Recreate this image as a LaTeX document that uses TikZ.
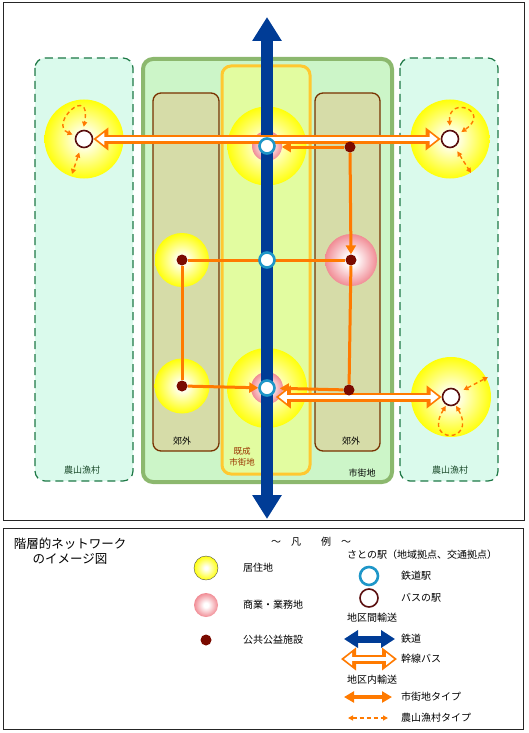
\documentclass[tikz,border=0pt]{standalone}
\usepackage{fontspec}
\setmainfont{Noto Sans CJK JP}
\usetikzlibrary{arrows.meta}

\definecolor{railblue}{HTML}{003C96}
\definecolor{busorange}{HTML}{FF7A00}
\definecolor{ringcyan}{HTML}{1E96C8}
\definecolor{ringbrown}{HTML}{5A0F0F}
\definecolor{dotred}{HTML}{7A0A00}
\definecolor{ruralfill}{HTML}{DAFAEC}
\definecolor{ruraledge}{HTML}{1E7846}
\definecolor{cityfill}{HTML}{CCF5C8}
\definecolor{cityedge}{HTML}{8CB86E}
\definecolor{corefill}{HTML}{E2FCA0}
\definecolor{coreedge}{HTML}{FFC830}
\definecolor{subfill}{HTML}{D6DCA8}
\definecolor{subedge}{HTML}{783200}
\definecolor{glowyellow}{HTML}{FFFF00}
\definecolor{glowpink}{HTML}{EC6470}
\definecolor{coretext}{HTML}{993300}
\definecolor{ruraltext}{HTML}{1A4A2A}

\pgfdeclareradialshading{homeshade}{\pgfpoint{0bp}{0bp}}{color(0bp)=(white); color(3bp)=(white); color(26bp)=(glowyellow); color(50bp)=(glowyellow)}
\pgfdeclareradialshading{shopshade}{\pgfpoint{0bp}{0bp}}{color(0bp)=(white); color(5bp)=(white); color(32bp)=(glowpink); color(50bp)=(glowpink)}

\pgfdeclarelayer{background}
\pgfdeclarelayer{links}
\pgfsetlayers{background,links,main}

\tikzset{
	frame/.style={draw=black!85, line width=1pt},
	ruralzone/.style={fill=ruralfill, draw=ruraledge, line width=1.2pt, dash pattern=on 8pt off 5pt, rounded corners=10pt},
	cityzone/.style={fill=cityfill, draw=cityedge, line width=4pt, rounded corners=10pt},
	corezone/.style={fill=corefill, draw=coreedge, line width=3pt, rounded corners=9pt},
	subzone/.style={fill=subfill, draw=subedge, line width=1.3pt, rounded corners=8pt},
	homeglow/.style={circle, inner sep=0pt, minimum size=#1, shade, shading=homeshade},
	shopglow/.style={circle, inner sep=0pt, minimum size=#1, shade, shading=shopshade},
	station/.style={circle, inner sep=0pt, minimum size=15pt, fill=white, draw=ringcyan, line width=2.6pt},
	busstop/.style={circle, inner sep=0pt, minimum size=17pt, fill=white, draw=ringbrown, line width=1.6pt},
	facility/.style={circle, inner sep=0pt, minimum size=11pt, fill=dotred},
	rail/.style={railblue, line width=12pt, {Triangle[length=24pt,width=28pt]}-{Triangle[length=24pt,width=28pt]}},
	trunk/.style={busorange, line width=9pt, {Triangle[length=15pt,width=22pt]}-{Triangle[length=15pt,width=22pt]},
		postaction={draw=white, line width=3.5pt, shorten <=3pt, shorten >=3pt, {Triangle[length=8pt,width=12pt]}-{Triangle[length=8pt,width=12pt]}}},
	town/.style={busorange, line width=3pt},
	tohub/.style={-{Triangle[length=9pt,width=10pt]}},
	rural/.style={busorange, line width=1.4pt, dash pattern=on 4pt off 3pt, {Triangle[length=5pt,width=5pt]}-{Triangle[length=5pt,width=5pt]}},
	zonetext/.style={font=\fontsize{9}{11}\selectfont},
	keytext/.style={anchor=west, inner sep=0pt, font=\fontsize{10}{12}\selectfont}
}

\begin{document}
\begin{tikzpicture}[x=1pt,y=-1pt]
	\useasboundingbox (0,0) rectangle (528,733);
	\draw[frame] (3,3) rectangle (524,520);
	\draw[frame] (3,528) rectangle (523,729);

	\begin{pgfonlayer}{background}
		\draw[ruralzone] (35,58) rectangle (133,481);
		\draw[ruralzone] (400,58) rectangle (498,481);
		\draw[cityzone] (143,59) rectangle (392,482);
		\draw[corezone] (222,66) rectangle (310,474);
		\draw[subzone] (153,93) rectangle (219,451);
		\draw[subzone] (315,93) rectangle (380,451);

		\node[homeglow=79pt] (glowL) at (84,139) {};
		\node[homeglow=79pt] (glowRA) at (450,139) {};
		\node[homeglow=80pt] (glowRB) at (451,397) {};
		\node[homeglow=79pt] (glowT) at (267,146) {};
		\node[homeglow=80pt] (glowB) at (267,388) {};
		\node[homeglow=54pt] (glowML) at (182,260) {};
		\node[homeglow=55pt] (glowBL) at (182,386) {};
		\node[shopglow=52pt] (glowMR) at (351,260) {};
		\node[shopglow=30pt] (pinkT) at (267,146) {};
		\node[shopglow=32pt] (pinkB) at (267,388) {};

		\coordinate (railN) at (267,17);
		\coordinate (railS) at (267,519);
		\draw[rail] (railN) -- (railS);
	\end{pgfonlayer}

	\node[station] (ctop) at (267,146) {};
	\node[station] (cmid) at (267,260) {};
	\node[station] (cbot) at (267,388) {};
	\node[busstop] (lbus) at (84,139) {};
	\node[busstop] (rbusA) at (450,139) {};
	\node[busstop] (rbusB) at (451,397) {};
	\node[facility] (dTR) at (350,147) {};
	\node[facility] (dML) at (182,260) {};
	\node[facility] (dMR) at (351,260) {};
	\node[facility] (dBL) at (182,386) {};
	\node[facility] (dBR) at (349,390) {};

	\begin{pgfonlayer}{links}
		\draw[town] (dML) -- (dMR);
		\draw[town] (dML) -- (dBL);
		\draw[town] (dMR) -- (dBR);
		\draw[town, tohub, shorten >=6pt] (dTR) -- (ctop.east |- dTR);
		\draw[town, tohub] (dTR) -- (dMR);
		\draw[town, tohub] (dBL) -- (cbot);
		\draw[town, tohub, shorten >=4pt] (dBR) -- (cbot);

		\draw[trunk] (lbus) -- (rbusA);
		\draw[trunk] (cbot.east |- rbusB) -- (rbusB);

		\coordinate (lbusout) at (72,174);
		\coordinate (rbusAout) at (471,173);
		\coordinate (rbusBout) at (488,377);
		\draw[rural, shorten <=3pt, shorten >=3pt] (lbus.160) .. controls (48,124) and (92,83) .. (lbus.95);
		\draw[rural, shorten <=5pt] (lbus.-110) -- (lbusout);
		\draw[rural, shorten <=4pt, shorten >=4pt] (rbusA.90) .. controls (448,95) and (492,111) .. (rbusA.30);
		\draw[rural, shorten <=5pt] (rbusA.-60) -- (rbusAout);
		\draw[rural, shorten <=1pt, shorten >=1pt] (rbusB.-120) .. controls (422,444) and (478,444) .. (rbusB.-60);
		\draw[rural, shorten <=5pt] (rbusB.30) -- (rbusBout);
	\end{pgfonlayer}

	\node[zonetext] (subLt) at (182,441) {郊外};
	\node[zonetext] (subRt) at (351,441) {郊外};
	\node[zonetext, align=center, text=coretext, font=\fontsize{8.5}{10.5}\selectfont] (coret) at (242,457) {既成\\市街地};
	\node[zonetext] (cityt) at (362,473) {市街地};
	\node[zonetext, text=ruraltext] (ruralLt) at (82,470) {農山漁村};
	\node[zonetext, text=ruraltext] (ruralRt) at (450,470) {農山漁村};

	\node[align=center, font=\fontsize{12.5}{14.5}\selectfont] (title) at (70,551) {階層的ネットワーク\\のイメージ図};
	\node[font=\fontsize{10}{12}\selectfont] (hanrei) at (311,542) {～\hspace{10pt}凡\hspace{20pt}例\hspace{10pt}～};

	\node[homeglow=24pt, draw=black!70, line width=0.4pt] (keyhome) at (206,568) {};
	\node[shopglow=24pt] (keyshop) at (206,605) {};
	\node[facility] (keydot) at (206,640) {};
	\node[keytext] (keyhomet) at (243,568) {居住地};
	\node[keytext] (keyshopt) at (243,605) {商業・業務地};
	\node[keytext] (keydott) at (243,640) {公共公益施設};

	\node[keytext] (satot) at (347,555) {さとの駅（地域拠点、交通拠点）};
	\node[station, minimum size=18pt] (keystation) at (369,576) {};
	\node[busstop, minimum size=18pt] (keybus) at (369,598) {};
	\node[keytext] (keystationt) at (401,576) {鉄道駅};
	\node[keytext] (keybust) at (401,598) {バスの駅};

	\node[keytext] (intert) at (347,618) {地区間輸送};
	\coordinate (keyrailW) at (344,639);
	\coordinate (keyrailE) at (395,639);
	\draw[rail, line width=7pt, {Triangle[length=14pt,width=17pt]}-{Triangle[length=14pt,width=17pt]}] (keyrailW) -- (keyrailE);
	\node[keytext] (keyrailt) at (401,639) {鉄道};
	\coordinate (keytrunkW) at (341,659);
	\coordinate (keytrunkE) at (397,659);
	\draw[trunk] (keytrunkW) -- (keytrunkE);
	\node[keytext] (keytrunkt) at (401,659) {幹線バス};

	\node[keytext] (intrat) at (347,680) {地区内輸送};
	\coordinate (keytownW) at (344,697);
	\coordinate (keytownE) at (392,697);
	\draw[town, line width=3.5pt, {Triangle[length=10pt,width=11pt]}-{Triangle[length=10pt,width=11pt]}] (keytownW) -- (keytownE);
	\node[keytext] (keytownt) at (401,697) {市街地タイプ};
	\coordinate (keyruralW) at (348,718);
	\coordinate (keyruralE) at (388,718);
	\draw[rural] (keyruralW) -- (keyruralE);
	\node[keytext] (keyruralt) at (401,718) {農山漁村タイプ};
\end{tikzpicture}
\end{document}
